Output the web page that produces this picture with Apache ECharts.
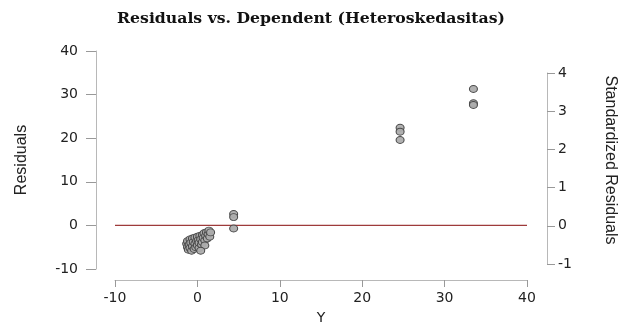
<!DOCTYPE html>
<html>
<head>
<meta charset="utf-8">
<script src="https://cdn.jsdelivr.net/npm/echarts@6/dist/echarts.min.js"></script>
<style>
html,body{margin:0;padding:0;background:#fff;}
#chart{width:635px;height:326px;}
</style>
</head>
<body>
<div id="chart"></div>
<script>
var titleText = "Residuals vs. Dependent (Heteroskedasitas)";
var xTicks = [-10, 0, 10, 20, 30, 40];
var yTicks = [-10, 0, 10, 20, 30, 40];
var stdTicks = [-1, 0, 1, 2, 3, 4];
// Y (dependent) values and residuals
var clusterY = [-1.3,-1.2,-1.2,-1.1,-1.0,-0.9,-0.9,-0.8,-0.7,-0.6,-0.6,-0.5,-0.4,-0.3,-0.3,-0.2,-0.1,0.0,0.0,0.1,0.2,0.2,0.3,0.4,0.5,0.6,0.6,0.7,0.8,0.9,1.0,1.1,1.2,1.3,1.4,1.5,1.6,0.9,0.4];
var clusterRes = [-4.2,-5.0,-3.6,-5.6,-4.4,-3.2,-5.2,-4.0,-5.8,-3.0,-4.8,-3.8,-5.4,-4.2,-2.8,-5.0,-3.6,-4.6,-2.6,-3.4,-5.2,-4.0,-2.4,-3.2,-4.4,-2.2,-3.8,-2.9,-1.8,-3.4,-2.4,-1.6,-3.0,-2.0,-1.2,-2.6,-1.6,-4.6,-5.8];
var outerY = [4.4, 4.4, 4.4, 24.6, 24.6, 24.6, 33.5, 33.5, 33.5];
var outerRes = [2.6, 1.9, -0.7, 22.4, 21.5, 19.6, 31.3, 28.0, 27.6];
var refX = [-10, 40];
var refRes = [0, 0];

var pts = [];
clusterY.forEach(function(x,i){ pts.push([x, clusterRes[i]]); });
outerY.forEach(function(x,i){ pts.push([x, outerRes[i]]); });

var chart = echarts.init(document.getElementById('chart'));
var axisLineStyle = {color:'#b8b8b8', width:1};
var labelStyle = {color:'#222', fontFamily:'DejaVu Sans', fontSize:14};
chart.setOption({
  backgroundColor:'#fff',
  animation:false,
  title:{
    text:titleText, left:306, top:6, textAlign:'center',
    textStyle:{fontFamily:'DejaVu Serif', fontWeight:'bold', fontSize:15.7, color:'#111'}
  },
  grid:[
    {left:115, right:108, top:51, bottom:57, containLabel:false, outerBoundsMode:'none'},
    {left:115, right:108, top:73, bottom:62, containLabel:false, outerBoundsMode:'none'}
  ],
  xAxis:[
    {gridIndex:0, type:'value', min:-10, max:40, interval:10, offset:11,
     axisLine:{show:true, onZero:false, lineStyle:axisLineStyle},
     axisTick:{show:true, length:7, lineStyle:{color:'#999'}},
     axisLabel:Object.assign({margin:11}, labelStyle),
     splitLine:{show:false},
     name:'Y', nameLocation:'middle', nameGap:31,
     nameTextStyle:{fontFamily:'DejaVu Sans', fontSize:14, color:'#222'}},
    {gridIndex:1, type:'value', min:-10, max:40, show:false}
  ],
  yAxis:[
    {gridIndex:0, type:'value', min:-10, max:40, interval:10, offset:19,
     axisLine:{show:true, onZero:false, lineStyle:axisLineStyle},
     axisTick:{show:true, length:10, lineStyle:{color:'#999'}},
     axisLabel:Object.assign({margin:18}, labelStyle),
     splitLine:{show:false}},
    {gridIndex:1, type:'value', min:-1, max:4, interval:1, position:'right', offset:20,
     axisLine:{show:true, onZero:false, lineStyle:axisLineStyle},
     axisTick:{show:true, length:8, lineStyle:{color:'#999'}},
     axisLabel:Object.assign({margin:11}, labelStyle),
     splitLine:{show:false}}
  ],
  graphic:[
    {type:'text', x:22, y:160, rotation:Math.PI/2, originX:0, originY:0,
     style:{text:'Residuals', fontFamily:'Liberation Sans Narrow, Liberation Sans', fontSize:16, fill:'#222', textAlign:'center', textVerticalAlign:'middle'}},
    {type:'text', x:610, y:160, rotation:-Math.PI/2, originX:0, originY:0,
     style:{text:'Standardized Residuals', fontFamily:'Liberation Sans Narrow, Liberation Sans', fontSize:16, fill:'#222', textAlign:'center', textVerticalAlign:'middle'}}
  ],
  series:[
    {type:'line', xAxisIndex:0, yAxisIndex:0, data:refX.map(function(x,i){return [x, refRes[i]];}),
     symbol:'none', lineStyle:{color:'#9e3b3b', width:1.3}, silent:true, z:1},
    {type:'scatter', xAxisIndex:0, yAxisIndex:0, data:pts, symbol:'circle', symbolSize:[8,7],
     itemStyle:{color:'#adadad', borderColor:'#444', borderWidth:1, opacity:0.95}, z:2}
  ]
});
</script>
</body>
</html>
